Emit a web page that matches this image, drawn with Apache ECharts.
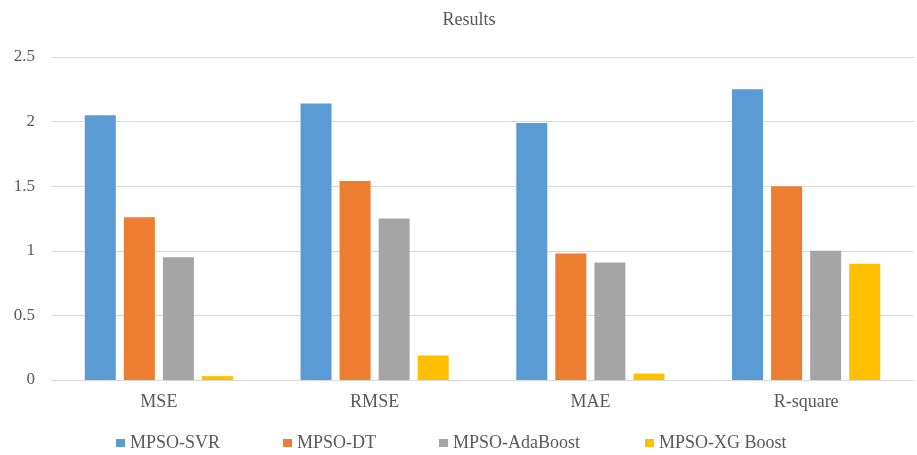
<!DOCTYPE html>
<html>
<head>
<meta charset="utf-8">
<script src="https://cdn.jsdelivr.net/npm/echarts@6/dist/echarts.min.js"></script>
<style>
  html, body { margin: 0; padding: 0; background: #ffffff; }
  #chart { width: 917px; height: 455px; }
</style>
</head>
<body>
<div id="chart"></div>
<script>
// Metric categories on the x axis
const categories = ['MSE', 'RMSE', 'MAE', 'R-square'];

// Model names (series)
const seriesNames = ['MPSO-SVR', 'MPSO-DT', 'MPSO-AdaBoost', 'MPSO-XG Boost'];

// Values per model, one entry per metric
const svrValues      = [2.05, 2.14, 1.99, 2.25];
const dtValues       = [1.26, 1.54, 0.98, 1.50];
const adaBoostValues = [0.95, 1.25, 0.91, 1.00];
const xgBoostValues  = [0.03, 0.19, 0.05, 0.90];

const seriesValues = [svrValues, dtValues, adaBoostValues, xgBoostValues];
const seriesColors = ['#5b9bd5', '#ed7d31', '#a5a5a5', '#ffc000'];

// Left edge of each legend entry
const legendLeft = [116, 283, 439, 645];

const FONT = "'Liberation Serif', 'Times New Roman', serif";
const TEXT = '#595959';

const chart = echarts.init(document.getElementById('chart'), null, { renderer: 'canvas' });

const legends = seriesNames.map((name, i) => ({
  data: [name],
  left: legendLeft[i],
  top: 434,
  padding: 0,
  icon: 'rect',
  itemWidth: 9,
  itemHeight: 8,
  itemGap: 0,
  selectedMode: false,
  textStyle: { fontFamily: FONT, fontSize: 18, color: TEXT }
}));

const series = seriesNames.map((name, i) => ({
  name: name,
  type: 'bar',
  data: seriesValues[i],
  barWidth: 31,
  barGap: '26%',
  itemStyle: { color: seriesColors[i] }
}));

chart.setOption({
  animation: false,
  backgroundColor: '#ffffff',
  title: {
    text: 'Results',
    left: 464,
    top: 6,
    textAlign: 'center',
    textStyle: { fontFamily: FONT, fontSize: 18, fontWeight: 'normal', color: TEXT }
  },
  legend: legends,
  grid: { left: 51, right: 3, top: 57, bottom: 75 },
  xAxis: {
    type: 'category',
    data: categories,
    axisTick: { show: false },
    axisLine: { lineStyle: { color: '#d9d9d9', width: 1 } },
    axisLabel: { fontFamily: FONT, fontSize: 18, color: TEXT, margin: 13 }
  },
  yAxis: {
    type: 'value',
    min: 0,
    max: 2.5,
    interval: 0.5,
    axisLine: { show: false },
    axisTick: { show: false },
    splitLine: { lineStyle: { color: '#d9d9d9', width: 1 } },
    axisLabel: { fontFamily: FONT, fontSize: 17, color: TEXT, margin: 16 }
  },
  series: series
});
</script>
</body>
</html>
